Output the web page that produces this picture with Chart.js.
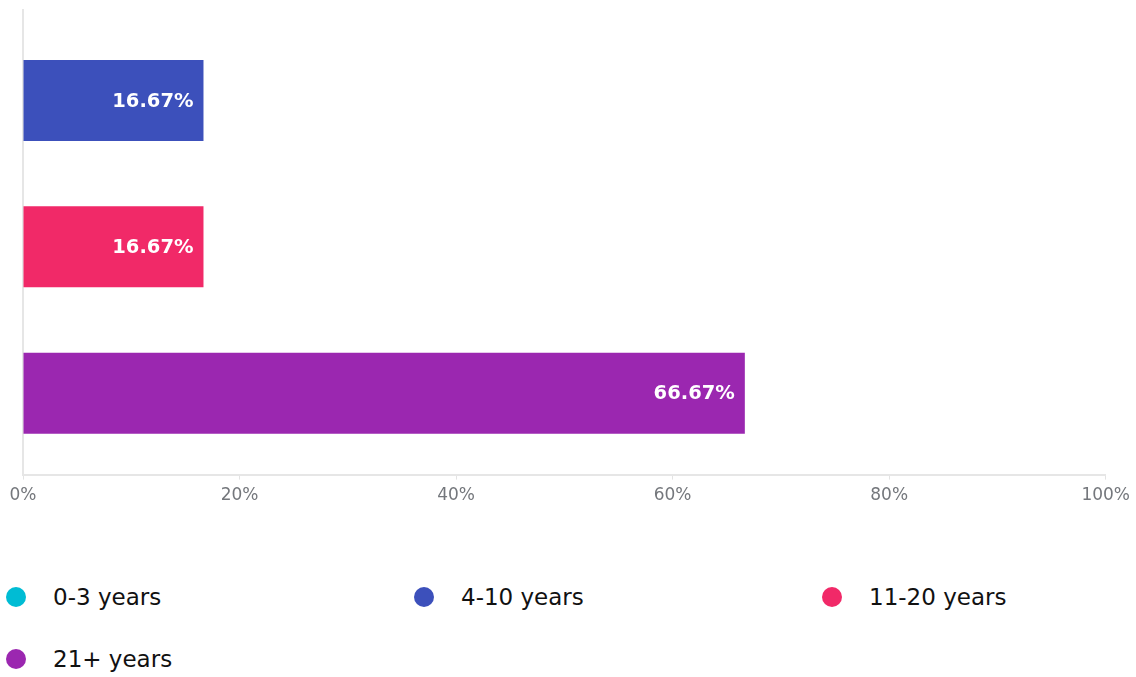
<!DOCTYPE html>
<html>
<head>
<meta charset="utf-8">
<script src="https://cdn.jsdelivr.net/npm/chart.js@4/dist/chart.umd.min.js"></script>
<style>
  html, body { margin: 0; padding: 0; background: #ffffff; }
  body { width: 1136px; height: 677px; position: relative; overflow: hidden; font-family: "DejaVu Sans", sans-serif; }
  #chartBox { position: absolute; left: 0; top: 0; width: 1136px; height: 516px; }
  #legend { position: absolute; left: 6px; top: 585px; display: grid; grid-template-columns: repeat(3, 408px); row-gap: 38px; }
  .item { display: flex; align-items: center; height: 24px; }
  .dot { width: 20px; height: 20px; border-radius: 50%; margin-right: 27px; flex: none; }
  .txt { font-size: 23px; color: #111111; white-space: nowrap; }
</style>
</head>
<body>
<div id="chartBox"><canvas id="c"></canvas></div>
<div id="legend"></div>
<script>
// ---- data ----
const categories = ['0-3 years', '4-10 years', '11-20 years', '21+ years'];
const values = [0, 16.67, 16.67, 66.67];
const colors = ['#00bcd4', '#3c50bb', '#f12968', '#9b27b0'];
const xTicks = [0, 20, 40, 60, 80, 100];

// category scale with extra end padding (uses the library's scale machinery)
class PaddedCategoryScale extends Chart.CategoryScale {
  buildTicks() {
    const ticks = super.buildTicks();
    const ex = this.options.extraOffset || {};
    const a = ex.start || 0, b = ex.end || 0;
    this._startValue -= a;
    this._valueRange += a + b;
    return ticks;
  }
}
PaddedCategoryScale.id = 'paddedCategory';
PaddedCategoryScale.defaults = Chart.CategoryScale.defaults;
Chart.register(PaddedCategoryScale);

const valueLabels = {
  id: 'valueLabels',
  afterDatasetsDraw(chart) {
    const ctx = chart.ctx;
    const meta = chart.getDatasetMeta(0);
    ctx.save();
    ctx.font = 'bold 19.5px "DejaVu Sans"';
    ctx.fillStyle = '#ffffff';
    ctx.textAlign = 'right';
    ctx.textBaseline = 'middle';
    meta.data.forEach((bar, i) => {
      const v = values[i];
      if (!v) return;
      ctx.fillText(v.toFixed(2) + '%', bar.x - 10, bar.y + 1);
    });
    ctx.restore();
  }
};

new Chart(document.getElementById('c'), {
  type: 'bar',
  data: {
    labels: categories,
    datasets: [{
      data: values,
      backgroundColor: colors,
      borderWidth: 0,
      categoryPercentage: 1,
      barPercentage: 0.553
    }]
  },
  options: {
    indexAxis: 'y',
    responsive: true,
    maintainAspectRatio: false,
    animation: false,
    layout: { padding: { top: 10, left: 23, right: 11, bottom: 4 } },
    plugins: { legend: { display: false }, tooltip: { enabled: false } },
    scales: {
      x: {
        type: 'linear',
        min: xTicks[0],
        max: xTicks[xTicks.length - 1],
        afterBuildTicks: (s) => { s.ticks = xTicks.map(v => ({ value: v })); },
        grid: { drawOnChartArea: false, drawTicks: true, tickLength: 5, color: '#e3e3e3' },
        border: { display: true, color: '#e6e6e6', width: 2 },
        ticks: {
          color: '#74777c',
          font: { family: '"DejaVu Sans"', size: 17 },
          padding: 6,
          maxRotation: 0,
          callback: (v) => v + '%'
        }
      },
      y: {
        type: 'paddedCategory',
        min: categories[1],
        max: categories[3],
        offset: true,
        extraOffset: { start: 0.118, end: 0.056 },
        grid: { display: false, drawTicks: false },
        border: { display: true, color: '#e6e6e6', width: 2 },
        ticks: { display: false }
      }
    }
  },
  plugins: [valueLabels]
});

// ---- HTML legend built from the same arrays ----
const legend = document.getElementById('legend');
categories.forEach((c, i) => {
  const item = document.createElement('div');
  item.className = 'item';
  const dot = document.createElement('span');
  dot.className = 'dot';
  dot.style.background = colors[i];
  const t = document.createElement('span');
  t.className = 'txt';
  t.textContent = c;
  item.appendChild(dot);
  item.appendChild(t);
  legend.appendChild(item);
});
</script>
</body>
</html>
